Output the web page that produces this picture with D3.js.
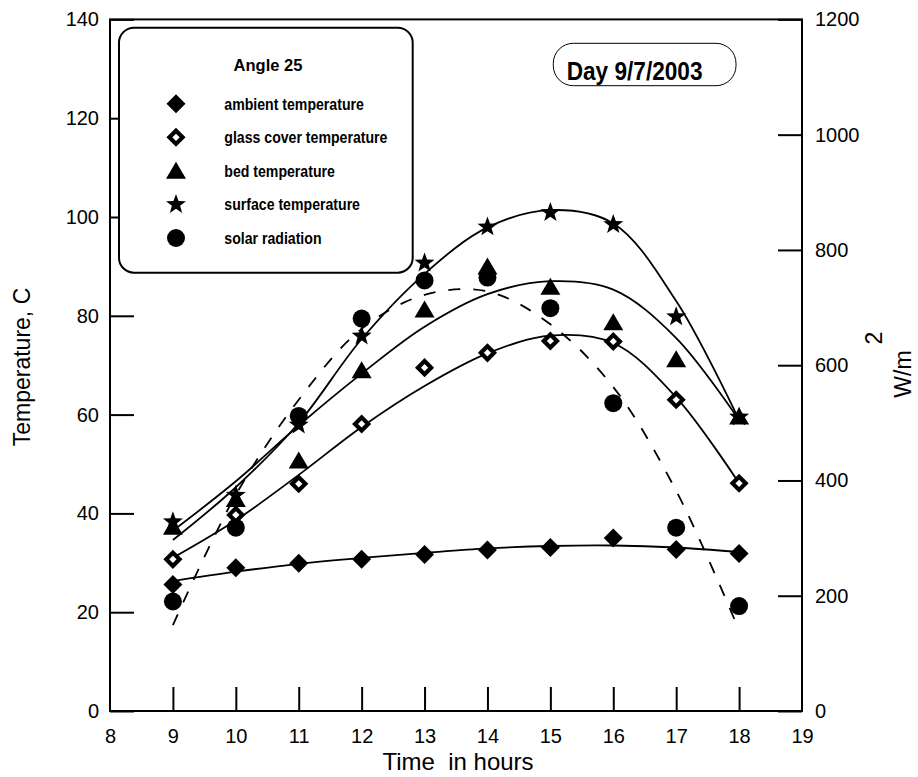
<!DOCTYPE html>
<html>
<head>
<meta charset="utf-8">
<script src="https://cdn.jsdelivr.net/npm/d3@7/dist/d3.min.js"></script>
<style>
  html, body { margin: 0; padding: 0; background: #fff; }
  svg { display: block; font-family: "Liberation Sans", Arial, Helvetica, sans-serif; }
</style>
</head>
<body>
<svg id="chart" width="918" height="777"></svg>
<script>
// Measurements for 9 July 2003, collector angle 25
const hours = [9, 10, 11, 12, 13, 14, 15, 16, 17, 18];

// measured values (Temperature in C, radiation in W/m2)
const ambientTemp = [25.6, 29.0, 29.9, 30.7, 31.7, 32.6, 33.1, 35.0, 32.7, 31.9];
const glassTemp   = [30.7, 39.7, 46.0, 58.1, 69.5, 72.5, 74.9, 74.8, 63.0, 46.1];
const bedTemp     = [37.3, 42.9, 50.7, 69.0, 81.3, 90.0, 85.9, 78.7, 71.2, 59.6];
const surfaceTemp = [38.3, 43.7, 57.9, 75.9, 90.7, 98.0, 100.9, 98.5, 79.8, 59.5];
const solarRad    = [190, 318, 512, 681, 747, 752, 699, 534, 318, 182];

// fitted trend curves, evaluated at each hour
const ambientFit = [26.3, 28.2, 29.8, 31.0, 32.0, 32.9, 33.4, 33.5, 33.1, 32.2];
const glassFit   = [31.0, 38.6, 47.8, 57.5, 65.8, 72.4, 76.0, 74.5, 63.5, 46.1];
const bedFit     = [36.5, 46.5, 57.8, 68.3, 77.8, 84.4, 87.0, 85.3, 75.5, 58.9];
const surfaceFit = [34.6, 45.3, 58.3, 75.3, 88.5, 97.9, 101.4, 98.7, 83.0, 58.9];
const solarFit   = [149, 375, 540, 663, 722, 728, 671, 562, 382, 140];

// axis ticks
const xTicks = [8, 9, 10, 11, 12, 13, 14, 15, 16, 17, 18, 19];
const tempTicks = [0, 20, 40, 60, 80, 100, 120, 140];
const radTicks = [0, 200, 400, 600, 800, 1000, 1200];

// legend
const legendTitle = "Angle 25";
const legendLabels = ["ambient temperature", "glass cover temperature", "bed temperature",
                      "surface temperature", "solar radiation"];
const legendMarkers = ["diamond", "openDiamond", "triangle", "star", "circle"];
const dayLabel = "Day 9/7/2003";

const svg = d3.select("#chart");
const plotL = 110, plotR = 802, plotT = 19.4, plotB = 711;

const x = d3.scaleLinear().domain([8, 19]).range([plotL, plotR]);
const yT = d3.scaleLinear().domain([0, 140]).range([plotB, plotT]);
const yR = d3.scaleLinear().domain([0, 1200]).range([plotB, plotT]);

// ---- frame and axes ----
const axisG = svg.append("g");
axisG.append("rect")
  .attr("x", plotL).attr("y", plotT)
  .attr("width", plotR - plotL).attr("height", plotB - plotT)
  .attr("fill", "none").attr("stroke", "#000").attr("stroke-width", 2);

const TICK = 24;
const intFmt = d3.format("d");
function styleAxis(g) {
  g.select(".domain").remove();
  g.selectAll(".tick line").attr("stroke", "#000").attr("stroke-width", 2);
  g.selectAll(".tick text").attr("fill", "#000")
    .style("font-size", "20px").style("font-family", "'Liberation Sans', Arial, sans-serif");
}

// bottom axis: ticks point inward
const xAxis = axisG.append("g").attr("transform", `translate(0,${plotB})`)
  .call(d3.axisBottom(x).tickValues(xTicks).tickFormat(intFmt)
        .tickSizeInner(-TICK).tickSizeOuter(0).tickPadding(0));
styleAxis(xAxis);
xAxis.selectAll(".tick line").filter(d => d === 8 || d === 19).remove();
xAxis.selectAll(".tick text").attr("y", 32).attr("dy", null);

// left axis (temperature)
const lAxis = axisG.append("g").attr("transform", `translate(${plotL},0)`)
  .call(d3.axisLeft(yT).tickValues(tempTicks).tickFormat(intFmt)
        .tickSizeInner(-TICK).tickSizeOuter(0).tickPadding(0));
styleAxis(lAxis);
lAxis.selectAll(".tick text").attr("x", -11);

// right axis (solar radiation)
const rAxis = axisG.append("g").attr("transform", `translate(${plotR},0)`)
  .call(d3.axisRight(yR).tickValues(radTicks).tickFormat(intFmt)
        .tickSizeInner(-TICK).tickSizeOuter(0).tickPadding(0));
styleAxis(rAxis);
rAxis.selectAll(".tick text").attr("x", 13);

// axis titles
svg.append("text")
  .attr("transform", "translate(30,367) rotate(-90)")
  .attr("text-anchor", "middle").style("font-size", "23px")
  .text("Temperature, C");

svg.append("text")
  .attr("x", 458).attr("y", 770)
  .attr("text-anchor", "middle").style("font-size", "24px").style("white-space", "pre")
  .text("Time  in hours");

svg.append("text")
  .attr("transform", "translate(911,374) rotate(-90)")
  .attr("text-anchor", "middle").style("font-size", "23px")
  .text("W/m");
svg.append("text")
  .attr("transform", "translate(882,338) rotate(-90)")
  .attr("text-anchor", "middle").style("font-size", "23px")
  .text("2");

// ---- trend curves ----
const curveG = svg.append("g").attr("fill", "none").attr("stroke", "#000").attr("stroke-width", 1.8);
const lineT = d3.line().x((d, i) => x(hours[i])).y(d => yT(d)).curve(d3.curveCatmullRom.alpha(0.5));
const lineR = d3.line().x((d, i) => x(hours[i])).y(d => yR(d)).curve(d3.curveCatmullRom.alpha(0.5));

[ambientFit, glassFit, bedFit, surfaceFit].forEach(s => curveG.append("path").attr("d", lineT(s)));
curveG.append("path").attr("d", lineR(solarFit)).attr("stroke-dasharray", "12,13");

// ---- marker shapes ----
function markerPath(type) {
  const p = d3.path();
  if (type === "diamond" || type === "openDiamond") {
    const r = type === "diamond" ? 9.5 : 6.6;
    p.moveTo(0, -r); p.lineTo(r, 0); p.lineTo(0, r); p.lineTo(-r, 0); p.closePath();
  } else if (type === "triangle") {
    p.moveTo(0, -9); p.lineTo(10, 8); p.lineTo(-10, 8); p.closePath();
  } else if (type === "star") {
    const R = 10.5, ri = 4.3;
    for (let k = 0; k < 10; k++) {
      const a = -Math.PI / 2 + k * Math.PI / 5;
      const rr = k % 2 === 0 ? R : ri;
      if (k === 0) p.moveTo(rr * Math.cos(a), rr * Math.sin(a));
      else p.lineTo(rr * Math.cos(a), rr * Math.sin(a));
    }
    p.closePath();
  } else {
    p.arc(0, 0, 9, 0, 2 * Math.PI);
  }
  return p.toString();
}

function drawMarker(g, type, cx, cy) {
  const m = g.append("path")
    .attr("d", markerPath(type))
    .attr("transform", `translate(${cx},${cy})`);
  if (type === "openDiamond") {
    m.attr("fill", "#fff").attr("stroke", "#000").attr("stroke-width", 4.2);
  } else {
    m.attr("fill", "#000");
  }
}

// ---- data markers ----
const markG = svg.append("g");
const seriesList = [
  { values: solarRad, type: "circle", scale: yR },
  { values: ambientTemp, type: "diamond", scale: yT },
  { values: glassTemp, type: "openDiamond", scale: yT },
  { values: bedTemp, type: "triangle", scale: yT },
  { values: surfaceTemp, type: "star", scale: yT }
];
seriesList.forEach(s => {
  s.values.forEach((v, i) => drawMarker(markG, s.type, x(hours[i]), s.scale(v)));
});

// condensed bold text helper
function condense(sel, k) {
  sel.each(function () {
    const w = this.getComputedTextLength();
    d3.select(this).attr("textLength", w * k).attr("lengthAdjust", "spacingAndGlyphs");
  });
}

// ---- legend ----
const leg = svg.append("g");
leg.append("rect")
  .attr("x", 119).attr("y", 27.7).attr("width", 293.7).attr("height", 245)
  .attr("rx", 15).attr("ry", 15)
  .attr("fill", "#fff").attr("stroke", "#000").attr("stroke-width", 2);
leg.append("text")
  .attr("x", 268).attr("y", 71).attr("text-anchor", "middle")
  .style("font-size", "16.5px").style("font-weight", "bold")
  .text(legendTitle);
const rowY = d3.scalePoint().domain(d3.range(legendLabels.length)).range([103.7, 238]);
legendLabels.forEach((lab, i) => {
  drawMarker(leg, legendMarkers[i], 176, rowY(i));
  leg.append("text")
    .attr("x", 224.3).attr("y", rowY(i) + 5.8)
    .style("font-size", "17px").style("font-weight", "bold")
    .text(lab)
    .call(condense, 0.83);
});

// ---- date box ----
const day = svg.append("g");
day.append("rect")
  .attr("x", 553.3).attr("y", 43.3).attr("width", 182.7).attr("height", 42.4)
  .attr("rx", 20).attr("ry", 20)
  .attr("fill", "none").attr("stroke", "#000").attr("stroke-width", 1);
day.append("text")
  .attr("x", 566.7).attr("y", 80)
  .style("font-size", "26px").style("font-weight", "bold")
  .text(dayLabel)
  .call(condense, 0.87);
</script>
</body>
</html>
